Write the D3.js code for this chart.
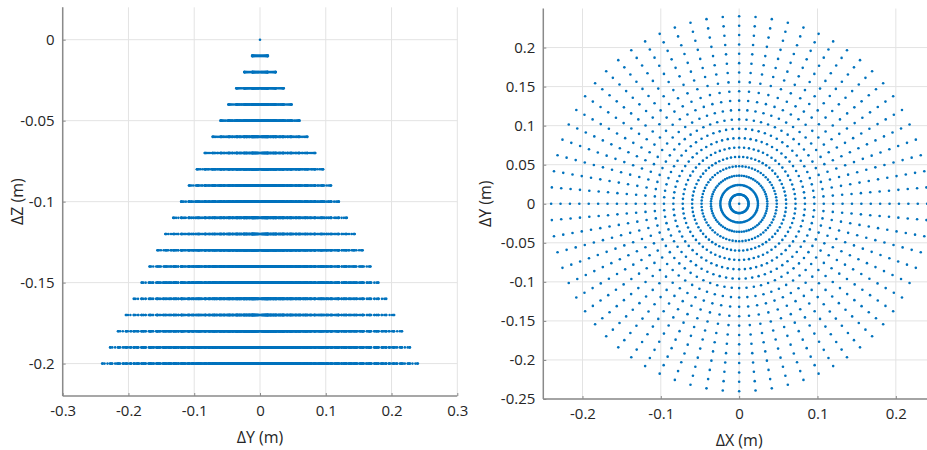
<!DOCTYPE html>
<html>
<head>
<meta charset="utf-8">
<script src="https://cdn.jsdelivr.net/npm/d3@7"></script>
<style>
  html, body { margin: 0; padding: 0; background: #fff; }
  svg { display: block; }
  text { font-family: "Open Sans", "Liberation Sans", sans-serif; fill: #262626; }
</style>
</head>
<body>
<svg id="chart" width="927" height="450"></svg>
<script>
// ---- data ----
// z levels of each disc (m)
const zLevels = [0, -0.01, -0.02, -0.03, -0.04, -0.05, -0.06, -0.07, -0.08, -0.09, -0.10,
                 -0.11, -0.12, -0.13, -0.14, -0.15, -0.16, -0.17, -0.18, -0.19, -0.20];
// ring radii (m); disc at level j holds rings 0..j
const ringRadii = [0, 0.012, 0.024, 0.036, 0.048, 0.060, 0.072, 0.084, 0.096, 0.108, 0.120,
                   0.132, 0.144, 0.156, 0.168, 0.180, 0.192, 0.204, 0.216, 0.228, 0.240];
// angular positions (deg) of points on each ring
const ringAnglesDeg = d3.range(0, 360, 5);

// ticks
const leftXTicks = [-0.3, -0.2, -0.1, 0, 0.1, 0.2, 0.3];
const leftYTicks = [-0.2, -0.15, -0.1, -0.05, 0];
const rightXTicks = [-0.2, -0.1, 0, 0.1, 0.2];
const rightYTicks = [-0.25, -0.2, -0.15, -0.1, -0.05, 0, 0.05, 0.1, 0.15, 0.2];

// ---- build points ----
const pts = [];
zLevels.forEach((z, j) => {
  for (let k = 0; k <= j; k++) {
    const r = ringRadii[k];
    if (r === 0) { pts.push({x: 0, y: 0, z}); continue; }
    ringAnglesDeg.forEach(a => {
      const t = a * Math.PI / 180;
      pts.push({x: r * Math.cos(t), y: r * Math.sin(t), z});
    });
  }
});
function uniq(arr, key) {
  const m = new Map();
  arr.forEach(p => { const kk = key(p); if (!m.has(kk)) m.set(kk, p); });
  return Array.from(m.values());
}
const sidePts = uniq(pts, p => p.z.toFixed(4) + "|" + p.y.toFixed(5));
const topPts = uniq(pts, p => p.x.toFixed(5) + "|" + p.y.toFixed(5));

const svg = d3.select("#chart");
const blue = "#0072BD";
const gridC = "#e3e3e3";
const axisC = "#8a8a8a";

function fmt(v) {
  if (Math.abs(v) < 1e-9) return "0";
  return String(+v.toFixed(2));
}

function panel(opts) {
  const {xDom, yDom, xR, yR, xTicks, yTicks, xTitle, yTitle, xTitleY, yTitleX, data, xa, ya, clipId} = opts;
  const x = d3.scaleLinear().domain(xDom).range(xR);
  const y = d3.scaleLinear().domain(yDom).range(yR);
  const g = svg.append("g");
  g.append("g").selectAll("line").data(xTicks).join("line")
    .attr("x1", d => x(d)).attr("x2", d => x(d))
    .attr("y1", yR[0]).attr("y2", yR[1])
    .attr("stroke", gridC).attr("stroke-width", 1);
  g.append("g").selectAll("line").data(yTicks).join("line")
    .attr("x1", xR[0]).attr("x2", xR[1])
    .attr("y1", d => y(d)).attr("y2", d => y(d))
    .attr("stroke", gridC).attr("stroke-width", 1);
  svg.append("clipPath").attr("id", clipId).append("rect")
    .attr("x", xR[0]).attr("y", yR[1]).attr("width", xR[1] - xR[0]).attr("height", yR[0] - yR[1]);
  g.append("g").attr("clip-path", `url(#${clipId})`)
    .selectAll("circle").data(data).join("circle")
    .attr("cx", d => x(xa(d))).attr("cy", d => y(ya(d)))
    .attr("r", 1.3).attr("fill", blue);
  const xAxis = d3.axisBottom(x).tickValues(xTicks).tickSize(-3).tickPadding(9).tickFormat(fmt);
  const yAxis = d3.axisLeft(y).tickValues(yTicks).tickSize(-3).tickPadding(8).tickFormat(fmt);
  const gx = g.append("g").attr("transform", `translate(0,${yR[0]})`).call(xAxis);
  const gy = g.append("g").attr("transform", `translate(${xR[0]},0)`).call(yAxis);
  [gx, gy].forEach(a => {
    a.select(".domain").attr("stroke", axisC).attr("stroke-width", 1.5);
    a.selectAll(".tick line").attr("stroke", axisC).attr("stroke-width", 1);
    a.selectAll(".tick text").attr("font-size", 15).attr("fill", "#262626")
      .style("font-family", "'Open Sans', sans-serif");
  });
  gx.select(".domain").attr("d", `M${xR[0]},0H${xR[1]}`);
  gy.select(".domain").attr("d", `M0,${yR[0]}V${yR[1]}`);
  g.append("text").attr("x", x(0)).attr("y", xTitleY)
    .attr("text-anchor", "middle").attr("font-size", 16).text(xTitle);
  g.append("text").attr("transform", `translate(${yTitleX},${y((yDom[0] + yDom[1]) / 2)}) rotate(-90)`)
    .attr("text-anchor", "middle").attr("font-size", 16).text(yTitle);
}

panel({
  xDom: [-0.3, 0.3], yDom: [-0.22, 0.02],
  xR: [62.7, 457.3], yR: [396, 7.3],
  xTicks: leftXTicks, yTicks: leftYTicks,
  xTitle: "ΔY (m)", yTitle: "ΔZ (m)",
  xTitleY: 443, yTitleX: 23,
  data: sidePts, xa: d => d.y, ya: d => d.z, clipId: "c1"
});
panel({
  xDom: [-0.25, 0.25], yDom: [-0.25, 0.25],
  xR: [543.3, 935], yR: [399, 8.5],
  xTicks: rightXTicks, yTicks: rightYTicks,
  xTitle: "ΔX (m)", yTitle: "ΔY (m)",
  xTitleY: 446, yTitleX: 491,
  data: topPts, xa: d => d.x, ya: d => d.y, clipId: "c2"
});
</script>
</body>
</html>
